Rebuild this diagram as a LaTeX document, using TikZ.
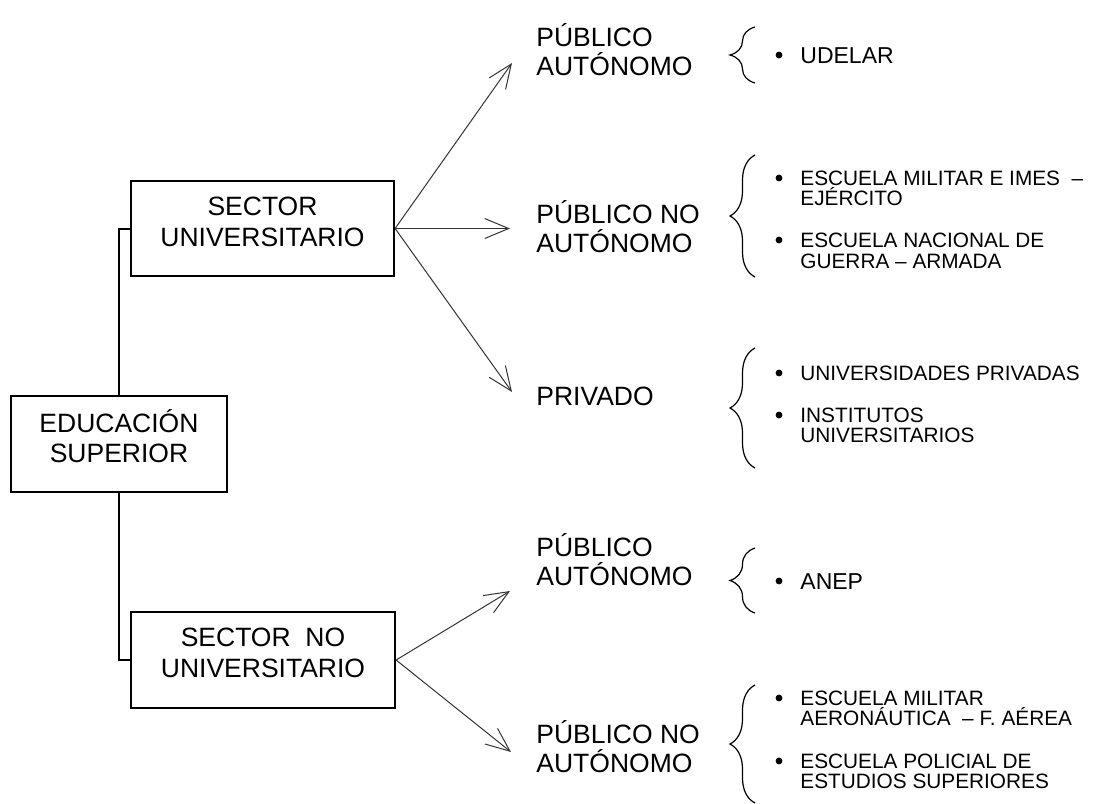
\documentclass[tikz,border=0pt]{standalone}
\usepackage{fontspec}
\setmainfont{Liberation Sans}
\usetikzlibrary{arrows.meta,decorations.pathreplacing}
\tikzset{
  box/.style={draw, line width=1.1pt, rectangle, inner sep=0pt},
  big/.style={font=\fontsize{13.25}{15.5}\selectfont, inner sep=0pt},
  lab/.style={big, anchor=base west},
  itm/.style={font=\fontsize{10.4}{12}\selectfont, inner sep=0pt, anchor=base west},
  itmb/.style={font=\fontsize{11.5}{13}\selectfont, inner sep=0pt, anchor=base west},
  bul/.style={circle, fill=black, inner sep=0pt, minimum size=3.4pt},
  arr/.style={-{Straight Barb[length=12pt,width=10pt]}, line width=0.5pt, black!80},
  conn/.style={line width=1pt},
  br/.style={decorate, decoration={brace, amplitude=12.5pt}, line width=0.6pt}
}
\begin{document}
\begin{tikzpicture}[x=0.5pt,y=-0.5pt]
\path[use as bounding box] (0,0) rectangle (1096,803);

% boxes
\node[box, minimum width=131.5pt, minimum height=47.5pt] (su) at (262.5,228.5) {};
\node[box, minimum width=108pt, minimum height=48pt] (es) at (119,444) {};
\node[box, minimum width=132pt, minimum height=48pt] (sn) at (263,660) {};

\node[big, anchor=base] (su1) at (262.5,215) {SECTOR};
\node[big, anchor=base] (su2) at (262.5,246) {UNIVERSITARIO};
\node[big, anchor=base] (es1) at (119,432) {EDUCACIÓN};
\node[big, anchor=base] (es2) at (119,462) {SUPERIOR};
\node[big, anchor=base] (sn1) at (263,646) {SECTOR~ NO};
\node[big, anchor=base] (sn2) at (263,677) {UNIVERSITARIO};

% connectors from EDUCACIÓN SUPERIOR
\draw[conn] (es.north) |- (su.west);
\draw[conn] (es.south) |- (sn.west);

% category labels
\node[lab] (pa1) at (536,46) {PÚBLICO};
\node[lab] (pa2) at (536,75) {AUTÓNOMO};
\node[lab] (pn1) at (536,223) {PÚBLICO NO};
\node[lab] (pn2) at (536,252) {AUTÓNOMO};
\node[lab] (pr) at (536,405) {PRIVADO};
\node[lab] (qa1) at (536,556) {PÚBLICO};
\node[lab] (qa2) at (536,585) {AUTÓNOMO};
\node[lab] (qn1) at (536,743) {PÚBLICO NO};
\node[lab] (qn2) at (536,772) {AUTÓNOMO};

% arrows
\coordinate (t1) at (512,63);
\coordinate (t2) at (510,228.5);
\coordinate (t3) at (512,392);
\coordinate (t4) at (510,591);
\coordinate (t5) at (511,752);
\draw[arr] (su.east) -- (t1);
\draw[arr] (su.east) -- (t2);
\draw[arr] (su.east) -- (t3);
\draw[arr] (sn.east) -- (t4);
\draw[arr] (sn.east) -- (t5);

% braces
\draw[br] (755,83) -- (755,27);
\draw[br] (755,277) -- (755,155);
\draw[br] (755,468) -- (755,348);
\draw[br] (755,613) -- (755,548);
\draw[br] (755,803) -- (755,685);

% items
\node[bul] (ba) at (779,55) {};
\node[itmb] (ia) at (800,63) {UDELAR};

\node[bul] (bb1) at (779,178) {};
\node[itm] (ib1) at (800,185) {ESCUELA MILITAR E IMES~ –};
\node[itm] (ib2) at (800,205) {EJÉRCITO};
\node[bul] (bb2) at (779,240) {};
\node[itm] (ib3) at (800,247) {ESCUELA NACIONAL DE};
\node[itm] (ib4) at (800,268) {GUERRA – ARMADA};

\node[bul] (bc1) at (779,373) {};
\node[itm] (ic1) at (800,380) {UNIVERSIDADES PRIVADAS};
\node[bul] (bc2) at (779,415) {};
\node[itm] (ic2) at (800,422) {INSTITUTOS};
\node[itm] (ic3) at (800,442) {UNIVERSITARIOS};

\node[bul] (bd) at (779,581) {};
\node[itmb] (id) at (800,589) {ANEP};

\node[bul] (be1) at (779,698) {};
\node[itm] (ie1) at (800,705) {ESCUELA MILITAR};
\node[itm] (ie2) at (800,725) {AERONÁUTICA~ – F. AÉREA};
\node[bul] (be2) at (779,761) {};
\node[itm] (ie3) at (800,768) {ESCUELA POLICIAL DE};
\node[itm] (ie4) at (800,788) {ESTUDIOS SUPERIORES};
\end{tikzpicture}
\end{document}
